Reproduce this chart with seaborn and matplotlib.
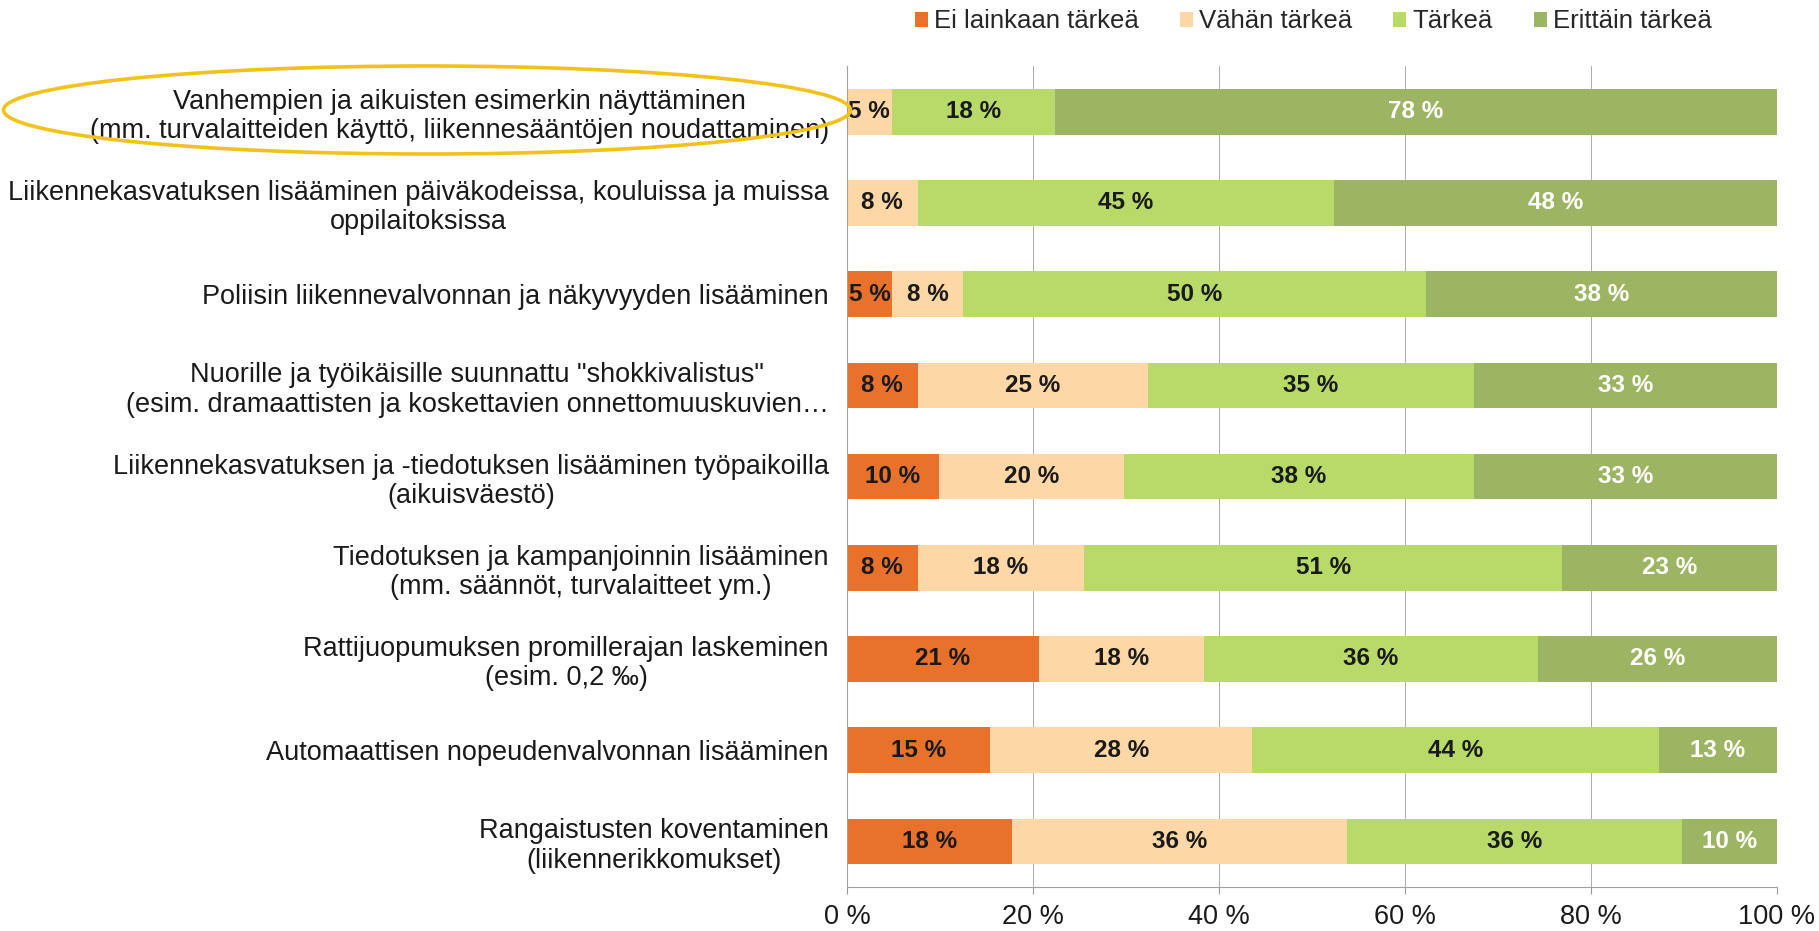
import matplotlib
matplotlib.use("Agg")
import matplotlib.pyplot as plt
from matplotlib.patches import Ellipse, Patch
import seaborn as sns
import pandas as pd
import numpy as np

# Data (percent of respondents)
categories = [
    "Vanhempien ja aikuisten esimerkin näyttäminen\n(mm. turvalaitteiden käyttö, liikennesääntöjen noudattaminen)",
    "Liikennekasvatuksen lisääminen päiväkodeissa, kouluissa ja muissa\noppilaitoksissa",
    "Poliisin liikennevalvonnan ja näkyvyyden lisääminen",
    "Nuorille ja työikäisille suunnattu \"shokkivalistus\"\n(esim. dramaattisten ja koskettavien onnettomuuskuvien…",
    "Liikennekasvatuksen ja -tiedotuksen lisääminen työpaikoilla\n(aikuisväestö)",
    "Tiedotuksen ja kampanjoinnin lisääminen\n(mm. säännöt, turvalaitteet ym.)",
    "Rattijuopumuksen promillerajan laskeminen\n(esim. 0,2 ‰)",
    "Automaattisen nopeudenvalvonnan lisääminen",
    "Rangaistusten koventaminen\n(liikennerikkomukset)",
]
ei_lainkaan = [0, 0, 4.9, 7.6, 9.9, 7.6, 20.6, 15.4, 17.7]
vahan = [4.8, 7.6, 7.6, 24.8, 19.9, 17.9, 17.8, 28.2, 36.1]
tarkea = [17.6, 44.8, 49.8, 35.0, 37.6, 51.4, 35.9, 43.7, 36.0]
erittain = [77.6, 47.6, 37.7, 32.6, 32.6, 23.1, 25.7, 12.7, 10.2]

series_names = ["Ei lainkaan tärkeä", "Vähän tärkeä", "Tärkeä", "Erittäin tärkeä"]
colors = ["#E8722C", "#FDD8A6", "#B8DA68", "#9DB562"]
text_colors = ["#1a1a1a", "#1a1a1a", "#1a1a1a", "white"]
x_ticks = [0, 20, 40, 60, 80, 100]

sns.set_theme(style="white")
plt.rcParams["font.family"] = ["Liberation Sans", "DejaVu Sans"]

df = pd.DataFrame({
    "kysymys": categories,
    "ei": ei_lainkaan,
    "vahan": vahan,
    "tarkea": tarkea,
    "erittain": erittain,
})
cols = ["ei", "vahan", "tarkea", "erittain"]
cum = df[cols].cumsum(axis=1)
for c in cols:
    df[c + "_cum"] = cum[c]

fig = plt.figure(figsize=(18.19, 9.31), dpi=100)
ax = fig.add_axes([0.4656, 0.0473, 0.5113, 0.8817])

# stacked bars: draw cumulative totals from the largest down
for c, col in reversed(list(zip(cols, colors))):
    sns.barplot(data=df, x=c + "_cum", y="kysymys", color=col, width=0.5,
                saturation=1, orient="h", linewidth=0, ax=ax)

# value labels
for i in range(len(categories)):
    left = 0
    for j, c in enumerate(cols):
        w = df[c].iloc[i]
        if w > 0:
            ax.text(left + w / 2, i, f"{w:.0f} %", ha="center", va="center",
                    fontsize=17.5, fontweight="bold", color=text_colors[j])
        left += w

ax.set_xlim(0, 100)
ax.set_ylim(len(categories) - 0.5, -0.5)
ax.set_xticks(x_ticks)
ax.set_xticklabels([f"{t} %" for t in x_ticks], fontsize=19.5, color="#1a1a1a")
ax.set_yticks(range(len(categories)))
ax.set_yticklabels(categories, fontsize=19.5, color="#1a1a1a")
for lbl in ax.get_yticklabels():
    lbl.set_multialignment("center")
    lbl.set_linespacing(1.17)
ax.set_xlabel("")
ax.set_ylabel("")

ax.xaxis.grid(True, color="#ababab", linewidth=0.7)
ax.set_axisbelow(True)
ax.tick_params(axis="x", bottom=True, length=5, width=0.8, color="#999999", pad=7)
ax.tick_params(axis="y", left=False, pad=7)
for side in ["top", "right"]:
    ax.spines[side].set_visible(False)
for side in ["left", "bottom"]:
    ax.spines[side].set_color("#a0a0a0")
    ax.spines[side].set_linewidth(0.8)

handles = [Patch(facecolor=c, edgecolor="none") for c in colors]
fig.legend(handles, series_names, loc="center", bbox_to_anchor=(0.722, 0.977),
           ncol=4, frameon=False, fontsize=18.5, handlelength=0.5, handleheight=0.5,
           handletextpad=0.25, columnspacing=1.6)

# highlight ellipse around the first item
ell = Ellipse((4.27, 8.21), 8.47, 0.88, transform=fig.dpi_scale_trans,
              fill=False, edgecolor="#F2C21A", linewidth=2.6)
fig.add_artist(ell)

fig.savefig("out.png", dpi=100)
